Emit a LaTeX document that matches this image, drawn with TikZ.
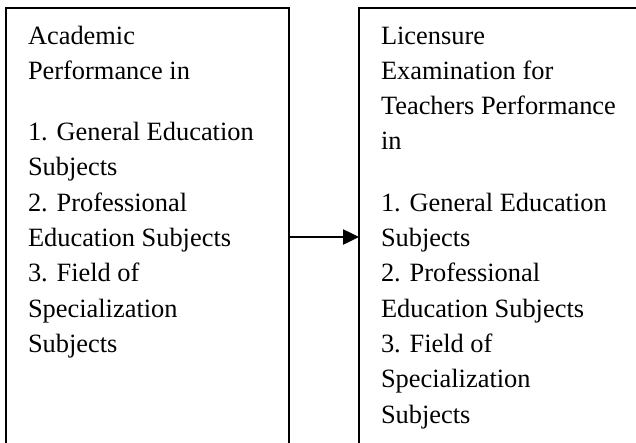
\documentclass[tikz,border=0pt]{standalone}
\usepackage{fontspec}
\setmainfont{Liberation Serif}
\usetikzlibrary{arrows.meta}
\begin{document}
\begin{tikzpicture}[x=1pt,y=-1pt,line width=2pt,line join=miter,
  framebox/.style={inner sep=0pt,minimum height=456pt,anchor=north west},
  boxtext/.style={anchor=north west,inner sep=0pt,align=left,
    font=\fontsize{26.4}{35.3}\selectfont},
  link/.style={line width=2.5pt,-{Triangle[length=16pt,width=15pt]}}]
\useasboundingbox (0,0) rectangle (636,442);
\clip (0,0) rectangle (636,442);
\node[framebox,minimum width=281pt] (boxL) at (6,8) {};
\node[framebox,minimum width=400pt] (boxR) at (359,8) {};
\draw (boxL.south west) -- (boxL.north west) -- (boxL.north east) -- (boxL.south east);
\draw (boxR.south west) -- (boxR.north west) -- (boxR.north east);
\draw[link] (boxL.east) -- (boxR.west);
\node[boxtext] (textL) at (27,18.3) {\strut Academic\\Performance in\\[26pt]1. General Education\\Subjects\\2. Professional\\Education Subjects\\3. Field of\\Specialization\\Subjects};
\node[boxtext] (textR) at (380,18.3) {\strut Licensure\\Examination for\\Teachers Performance\\in\\[26pt]1. General Education\\Subjects\\2. Professional\\Education Subjects\\3. Field of\\Specialization\\Subjects};
\end{tikzpicture}
\end{document}
